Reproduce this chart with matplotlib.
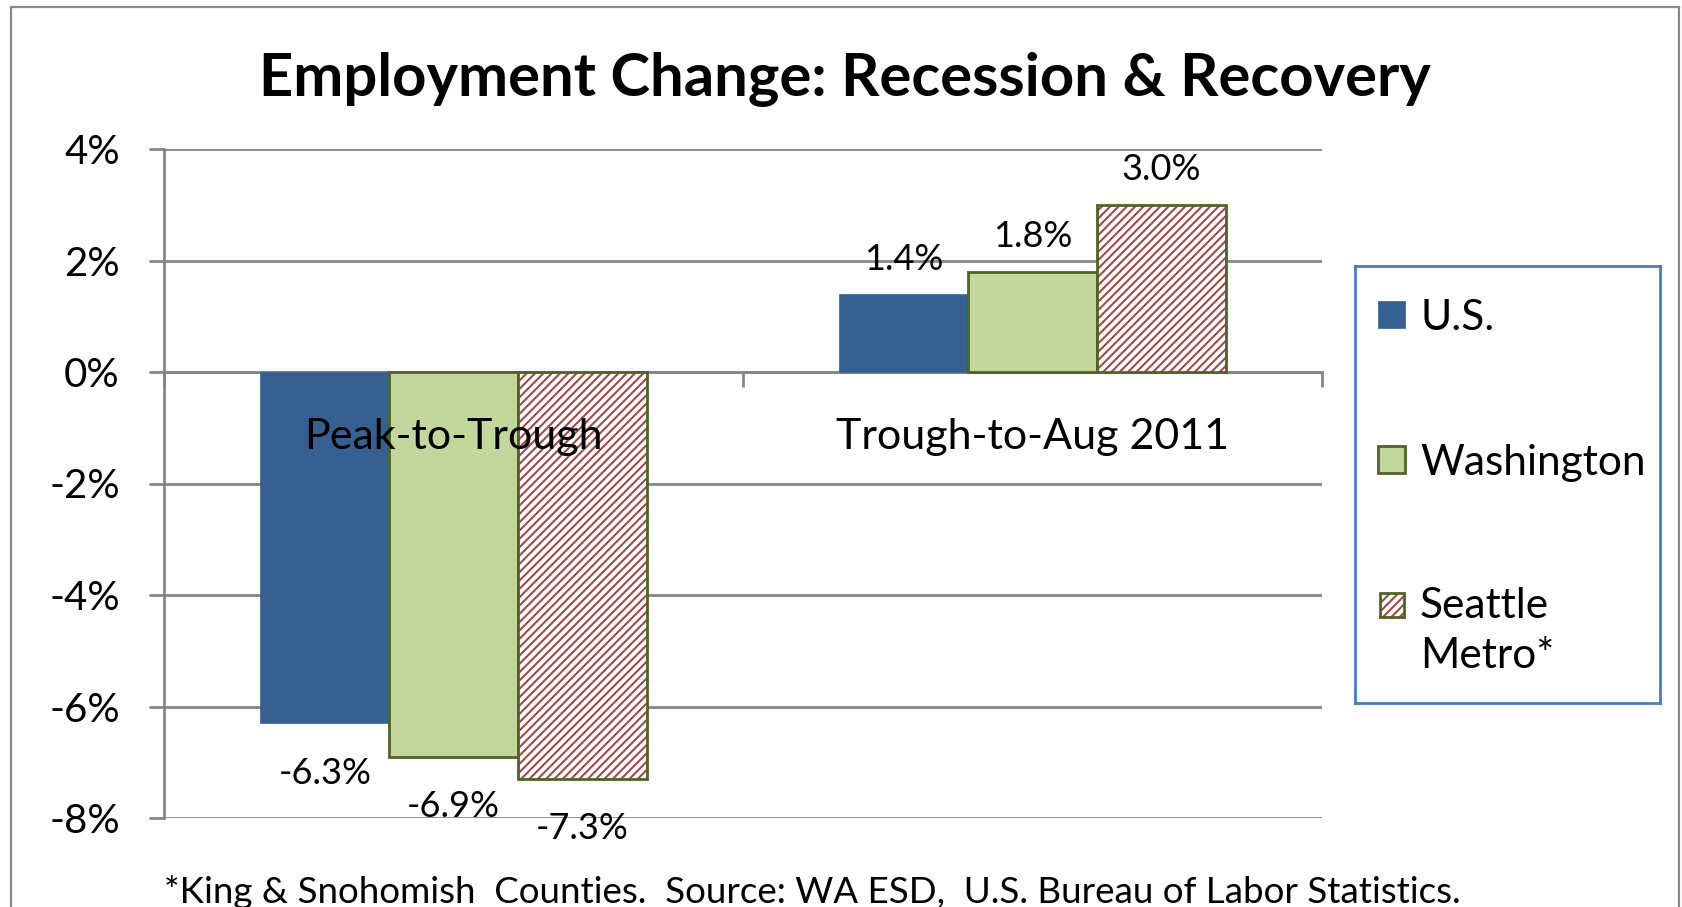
import matplotlib
matplotlib.use("Agg")
import matplotlib.pyplot as plt
from matplotlib.patches import Rectangle
from matplotlib.lines import Line2D
import numpy as np

plt.rcParams['font.family'] = ['Lato', 'DejaVu Sans']
plt.rcParams['hatch.linewidth'] = 1.5

# ---------------- data ----------------
categories = ["Peak-to-Trough", "Trough-to-Aug 2011"]
series = ["U.S.", "Washington", "Seattle\nMetro*"]
us_values = [-6.3, 1.4]
wa_values = [-6.9, 1.8]
seattle_values = [-7.3, 3.0]
yticks = [-8, -6, -4, -2, 0, 2, 4]
title = "Employment Change: Recession & Recovery"
footnote = "*King & Snohomish  Counties.  Source: WA ESD,  U.S. Bureau of Labor Statistics."

# ---------------- styles ----------------
US_BLUE = "#376092"
WA_GREEN = "#C3D69B"
OLIVE = "#4F6228"
HATCH_RED = "#A34A48"
GRID = "#868686"
LEG_BLUE = "#4A7EBB"

W, H = 1682, 907
fig = plt.figure(figsize=(W / 100, H / 100), dpi=100)
fig.patch.set_facecolor("white")

ax = fig.add_axes([164 / W, 1 - 818 / H, (1322 - 164) / W, (818 - 149) / H])
ax.set_xlim(-0.5, 1.5)
ax.set_ylim(-8, 4)

x = np.arange(len(categories))
bw = 0.2223
all_vals = [us_values, wa_values, seattle_values]

ax.bar(x - bw, us_values, bw, color=US_BLUE, edgecolor=US_BLUE, linewidth=0.5, zorder=3)
ax.bar(x, wa_values, bw, color=WA_GREEN, edgecolor=OLIVE, linewidth=2.0, zorder=3)
ax.bar(x + bw, seattle_values, bw, color="white", edgecolor=HATCH_RED,
       linewidth=0, hatch="////", zorder=3)
ax.bar(x + bw, seattle_values, bw, fill=False, edgecolor=OLIVE, linewidth=2.0, zorder=4)

# data labels
for offs, vals in zip([-bw, 0, bw], all_vals):
    for xi, v in zip(x, vals):
        dy = 17.5 if v >= 0 else -43.5
        ax.annotate(f"{v:.1f}%", (xi + offs, v), xytext=(0, dy), textcoords="offset points",
                    ha="center", va="baseline", fontsize=26, color="black", zorder=5)

# category labels
for xi, c in zip(x, categories):
    ax.annotate(c, (xi, 0), xytext=(0, -55.5), textcoords="offset points",
                ha="center", va="baseline", fontsize=31, color="black", zorder=5)

# axes styling
for s in ["top", "right"]:
    ax.spines[s].set_visible(False)
ax.spines["left"].set_color(GRID)
ax.spines["left"].set_linewidth(2)
ax.spines["bottom"].set_position(("data", 0))
ax.spines["bottom"].set_color(GRID)
ax.spines["bottom"].set_linewidth(2)
ax.spines["bottom"].set_zorder(2)

ax.set_yticks(yticks)
ax.set_yticklabels([f"{t}%" for t in yticks])
ax.tick_params(axis="y", length=10.8, width=2, color=GRID, pad=21, labelsize=29)
ax.set_xticks([-0.5, 0.5, 1.5])
ax.set_xticklabels([])
ax.tick_params(axis="x", length=10.8, width=2, color=GRID, direction="out")
ax.yaxis.grid(True, color=GRID, linewidth=2, zorder=1)
ax.set_axisbelow(True)

# title and footnote
fig.text(845 / W, 1 - 96 / H, title, ha="center", va="baseline", fontsize=43,
         fontweight="bold", color="black")
fig.text(812 / W, 1 - 903 / H, footnote, ha="center", va="baseline", fontsize=26.5, color="black")

# outer border (bottom edge cut off)
bc = "#898989"
fig.add_artist(Line2D([11 / W, 11 / W], [-0.01, 1 - 7 / H], color=bc, lw=1.6, transform=fig.transFigure))
fig.add_artist(Line2D([11 / W, 1679 / W], [1 - 7 / H, 1 - 7 / H], color=bc, lw=1.6, transform=fig.transFigure))
fig.add_artist(Line2D([1679 / W, 1679 / W], [-0.01, 1 - 7 / H], color=bc, lw=1.6, transform=fig.transFigure))

# legend (manual)
lx0, ly0, lx1, ly1 = 1355, 266, 1660, 703
lax = fig.add_axes([lx0 / W, 1 - ly1 / H, (lx1 - lx0) / W, (ly1 - ly0) / H])
lax.set_xlim(0, lx1 - lx0)
lax.set_ylim(ly1 - ly0, 0)
lax.set_xticks([])
lax.set_yticks([])
for s in lax.spines.values():
    s.set_color(LEG_BLUE)
    s.set_linewidth(2)

patch_x = 1378 - lx0
psz = 27
centers = [314 - ly0, 459 - ly0, 605 - ly0]
tops = [299 - ly0, 444 - ly0, 587 - ly0]
styles = [
    dict(facecolor=US_BLUE, edgecolor=US_BLUE, linewidth=0.5),
    dict(facecolor=WA_GREEN, edgecolor=OLIVE, linewidth=2.0),
    None,
]
for i, name in enumerate(series):
    cy = centers[i]
    if styles[i] is not None:
        lax.add_patch(Rectangle((patch_x, cy - psz / 2), psz, psz, **styles[i]))
    else:
        lax.add_patch(Rectangle((patch_x + 2, cy - psz / 2 + 1), psz - 3, psz - 3, facecolor="white",
                                edgecolor=HATCH_RED, linewidth=0, hatch="////"))
        lax.add_patch(Rectangle((patch_x + 2, cy - psz / 2 + 1), psz - 3, psz - 3, fill=False,
                                edgecolor=OLIVE, linewidth=2.0))
    lax.text(1420 - lx0, tops[i], name, ha="left", va="top", fontsize=30.5,
             color="black", linespacing=1.4)

fig.savefig("out.png", dpi=100, facecolor="white")
